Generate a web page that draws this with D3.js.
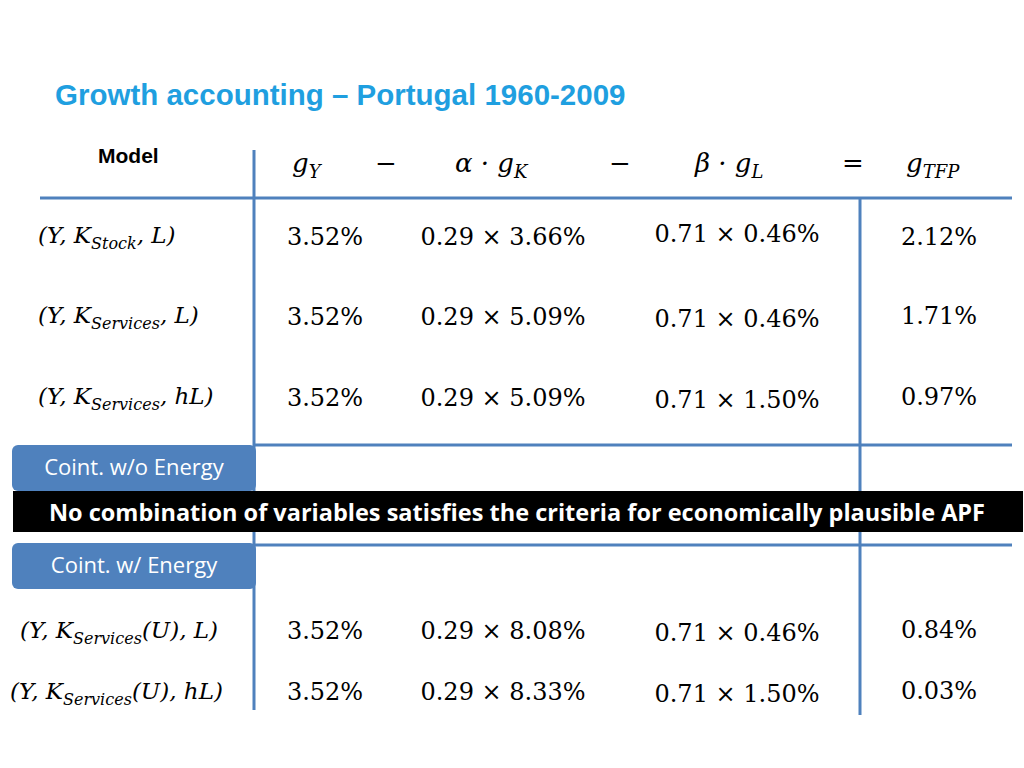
<!DOCTYPE html>
<html><head><meta charset="utf-8">
<script src="https://cdn.jsdelivr.net/npm/d3@7"></script>
<style>body{margin:0;background:#fff}</style>
</head><body><div id="slide"></div>
<script>
// table contents
const rows = ["stockL", "servL", "servhL", "servUL", "servUhL"];
const gY = ["3.52%", "3.52%", "3.52%", "3.52%", "3.52%"];
const alphaGK = ["0.29 × 3.66%", "0.29 × 5.09%", "0.29 × 5.09%", "0.29 × 8.08%", "0.29 × 8.33%"];
const betaGL = ["0.71 × 0.46%", "0.71 × 0.46%", "0.71 × 1.50%", "0.71 × 0.46%", "0.71 × 1.50%"];
const gTFP = ["2.12%", "1.71%", "0.97%", "0.84%", "0.03%"];
// model labels: [main, subscript, tail]
const models = [
  ["(Y, K", "Stock", ", L)"],
  ["(Y, K", "Services", ", L)"],
  ["(Y, K", "Services", ", hL)"],
  ["(Y, K", "Services", "(U), L)"],
  ["(Y, K", "Services", "(U), hL)"]
];

const W = 1024, H = 768;
const blue = "#4F81BD";
const svg = d3.select("#slide").append("svg").attr("width", W).attr("height", H);

const rowY = d3.scaleOrdinal().domain(rows).range([245, 325, 406, 640, 701]);
const colX = d3.scaleOrdinal().domain(["gY", "aK", "bL", "tfp"]).range([325, 503, 737, 939]);
const serif = "'DejaVu Serif', 'Liberation Serif', serif";

svg.append("text").attr("x", 55).attr("y", 105)
  .attr("font-family", "Liberation Sans, Arial, sans-serif").attr("font-weight", "bold")
  .attr("font-size", 29.5).attr("fill", "#1F9FE0").text("Growth accounting – Portugal 1960-2009");

// grid lines
const lines = [
  [40, 198, 1012, 198], [254, 150, 254, 710], [860, 198, 860, 715],
  [254, 445, 1012, 445], [254, 545, 1012, 545]
];
svg.selectAll("line.grid").data(lines).join("line")
  .attr("x1", d => d[0]).attr("y1", d => d[1]).attr("x2", d => d[2]).attr("y2", d => d[3])
  .attr("stroke", blue).attr("stroke-width", 3);

// header
svg.append("text").attr("x", 98).attr("y", 163)
  .attr("font-family", "Liberation Sans, Arial, sans-serif").attr("font-weight", "bold")
  .attr("font-size", 21).text("Model");
const hdr = svg.append("g").attr("font-family", serif).attr("font-size", 26).attr("font-style", "italic");
function sym(x, main, sub) {
  const t = hdr.append("text").attr("x", x).attr("y", 172);
  t.append("tspan").text(main);
  if (sub) t.append("tspan").attr("font-size", 18).attr("dy", 6).text(sub);
}
sym(292, "g", "Y");
sym(455, "α · g", "K");
sym(695, "β · g", "L");
sym(906, "g", "TFP");
hdr.selectAll(null).data([[386, "−"], [620, "−"], [853, "="]]).join("text")
  .attr("x", d => d[0]).attr("y", 172).attr("text-anchor", "middle").attr("font-style", "normal")
  .text(d => d[1]);

// model labels
const ml = svg.append("g").attr("font-family", serif).attr("font-size", 23).attr("font-style", "italic");
models.forEach((m, i) => {
  const x = i === 4 ? 10 : (i === 3 ? 20 : 38);
  const t = ml.append("text").attr("x", x).attr("y", rowY(rows[i]) - 2);
  t.append("tspan").text(m[0]);
  t.append("tspan").attr("font-size", 16).attr("dy", 6).text(m[1]);
  t.append("tspan").attr("dy", -6).text(m[2]);
});

// values
const cols = [["gY", gY], ["aK", alphaGK], ["bL", betaGL], ["tfp", gTFP]];
const shifts = { bL: [-3, 2, 2, 1, 1], tfp: [0, -1, -1, -2, -2], aK: [0, 0, 0, -1, -1], gY: [0, 0, 0, -1, -1] };
cols.forEach(([k, arr]) => {
  svg.append("g").selectAll("text").data(arr).join("text")
    .attr("x", colX(k)).attr("y", (d, i) => rowY(rows[i]) + (shifts[k][i] || 0))
    .attr("text-anchor", "middle").attr("font-family", serif).attr("font-size", 24)
    .text(d => d);
});

// section boxes
const boxes = [[445, "Coint. w/o Energy"], [543, "Coint. w/ Energy"]];
const bg = svg.append("g");
bg.selectAll("rect").data(boxes).join("rect")
  .attr("x", 12).attr("y", d => d[0]).attr("width", 244).attr("height", 46).attr("rx", 6)
  .attr("fill", blue);
bg.selectAll("text").data(boxes).join("text")
  .attr("x", 134).attr("y", d => d[0] + 30).attr("text-anchor", "middle")
  .attr("font-family", "'Open Sans', 'Noto Sans', sans-serif").attr("font-size", 22).attr("fill", "#fff")
  .text(d => d[1]);

svg.append("rect").attr("x", 13).attr("y", 491).attr("width", 1010).attr("height", 41).attr("fill", "#000");
svg.append("text").attr("x", 517).attr("y", 521).attr("text-anchor", "middle")
  .attr("font-family", "'Open Sans', 'Noto Sans', sans-serif").attr("font-weight", "bold")
  .attr("font-size", 23.5).attr("fill", "#fff")
  .text("No combination of variables satisfies the criteria for economically plausible APF");
</script></body></html>
